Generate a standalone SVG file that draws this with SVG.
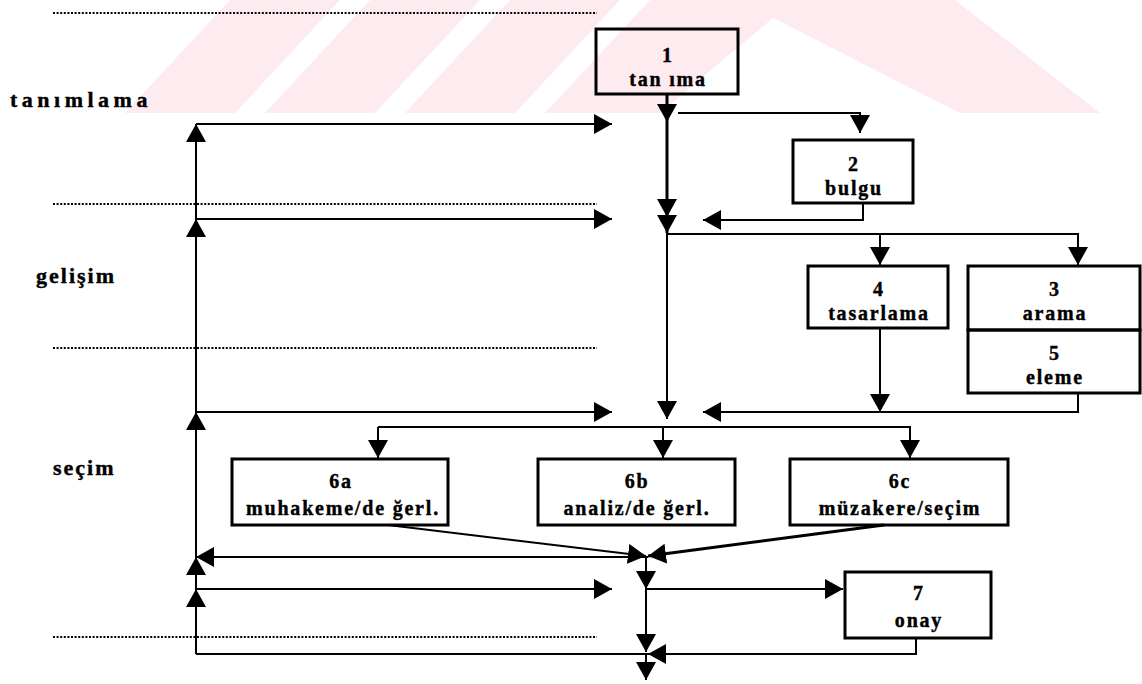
<svg xmlns="http://www.w3.org/2000/svg" width="1142" height="684" viewBox="0 0 1142 684">
  <style>
    .wm { fill: #fdebef; stroke: none; }
    .box { fill: none; stroke: #000; stroke-width: 3; }
    .ln { fill: none; stroke: #000; stroke-width: 2; }
    .thick { stroke-width: 3; }
    .sep { fill: none; stroke: #000; stroke-width: 2.2; stroke-dasharray: 2 1.6; }
    .t { font-family: "Liberation Serif", "Times New Roman", serif; font-weight: bold; font-size: 20px; letter-spacing: 1.8px; text-anchor: middle; fill: #000; stroke: #000; stroke-width: 0.4; }
    .phase { font-family: "Liberation Serif", "Times New Roman", serif; font-weight: bold; font-size: 22px; fill: #000; stroke: #000; stroke-width: 0.4; }
  </style>
  <defs>
    <marker id="ah" viewBox="0 0 18 20" refX="18" refY="10" markerWidth="18" markerHeight="20" markerUnits="userSpaceOnUse" orient="auto">
      <path d="M0,0 L18,10 L0,20 z" fill="#000"/>
    </marker>
  </defs>
  <rect width="1142" height="684" fill="#fff"/>

  <!-- faint background emblem -->
  <g id="emblem">
    <polygon class="wm" points="125,113 235,113 340,0 230,0"/>
    <polygon class="wm" points="265,113 375,113 480,0 370,0"/>
    <polygon class="wm" points="405,113 515,113 620,0 510,0"/>
    <polygon class="wm" points="545,113 660,113 773,18 960,113 1100,113 955,0 650,0"/>
  </g>

  <!-- phase separators -->
  <g id="separators">
    <line class="sep" x1="53" y1="13" x2="597" y2="13"/>
    <line class="sep" x1="53" y1="204" x2="597" y2="204"/>
    <line class="sep" x1="53" y1="348" x2="597" y2="348"/>
    <line class="sep" x1="53" y1="637" x2="597" y2="637"/>
  </g>

  <!-- phase labels -->
  <g id="phases">
    <text class="phase" x="10" y="107" letter-spacing="4.5">tanımlama</text>
    <text class="phase" x="36" y="283" letter-spacing="2">gelişim</text>
    <text class="phase" x="53" y="475" letter-spacing="2">seçim</text>
  </g>

  <!-- connectors -->
  <g id="connectors">
    <!-- feedback spine on the left -->
    <path class="ln" d="M196,219 V124" marker-end="url(#ah)"/>
    <path class="ln" d="M196,412 V219" marker-end="url(#ah)"/>
    <path class="ln" d="M196,557 V412" marker-end="url(#ah)"/>
    <path class="ln" d="M196,589 V557" marker-end="url(#ah)"/>
    <path class="ln" d="M196,654 V589" marker-end="url(#ah)"/>
    <path class="ln" d="M196,124 H612" marker-end="url(#ah)"/>
    <path class="ln" d="M196,219 H612" marker-end="url(#ah)"/>
    <path class="ln" d="M196,412 H612" marker-end="url(#ah)"/>
    <path class="ln" d="M196,589 H612" marker-end="url(#ah)"/>
    <path class="ln" d="M648,557 H196" marker-end="url(#ah)"/>
    <path class="ln" d="M648,654 H196"/>

    <!-- main flow, upper part -->
    <path class="ln thick" d="M667,94 V122" marker-end="url(#ah)"/>
    <path class="ln thick" d="M667,122 V217" marker-end="url(#ah)"/>
    <path class="ln thick" d="M667,217 V233" marker-end="url(#ah)"/>
    <path class="ln" d="M667,233 V419" marker-end="url(#ah)"/>
    <path class="ln" d="M678,113 H860 V133" marker-end="url(#ah)"/>
    <path class="ln" d="M863,203 V220 H703" marker-end="url(#ah)"/>
    <path class="ln" d="M667,234 H1078 V265" marker-end="url(#ah)"/>
    <path class="ln" d="M880,234 V265" marker-end="url(#ah)"/>
    <path class="ln" d="M880,328 V412" marker-end="url(#ah)"/>
    <path class="ln" d="M1078,393 V412 H703" marker-end="url(#ah)"/>

    <!-- selection branches -->
    <path class="ln" d="M378,427 H910 V458" marker-end="url(#ah)"/>
    <path class="ln" d="M378,427 V458" marker-end="url(#ah)"/>
    <path class="ln" d="M663,427 V458" marker-end="url(#ah)"/>
    <path class="ln" d="M388,525 L646,556" marker-end="url(#ah)"/>
    <path class="ln thick" d="M884,525 L648,556" marker-end="url(#ah)"/>

    <!-- main flow, lower part -->
    <path class="ln" d="M646,556 V589" marker-end="url(#ah)"/>
    <path class="ln" d="M646,589 H843" marker-end="url(#ah)"/>
    <path class="ln" d="M646,589 V652" marker-end="url(#ah)"/>
    <path class="ln" d="M916,638 V654 H648" marker-end="url(#ah)"/>
    <path class="ln" d="M646,654 V680" marker-end="url(#ah)"/>
  </g>

  <!-- process steps -->
  <g id="n1">
    <rect class="box" x="596" y="29" width="142" height="65"/>
    <text class="t" x="668" y="62">1</text>
    <text class="t" x="668" y="86">tan ıma</text>
  </g>
  <g id="n2">
    <rect class="box" x="793" y="140" width="120" height="63"/>
    <text class="t" x="854" y="171">2</text>
    <text class="t" x="854" y="195">bulgu</text>
  </g>
  <g id="n4">
    <rect class="box" x="808" y="266" width="140" height="62"/>
    <text class="t" x="879" y="296">4</text>
    <text class="t" x="879" y="320">tasarlama</text>
  </g>
  <g id="n3">
    <rect class="box" x="968" y="266" width="172" height="64"/>
    <text class="t" x="1055" y="296">3</text>
    <text class="t" x="1055" y="320">arama</text>
  </g>
  <g id="n5">
    <rect class="box" x="968" y="330" width="172" height="63"/>
    <text class="t" x="1055" y="360">5</text>
    <text class="t" x="1055" y="384">eleme</text>
  </g>
  <g id="n6a">
    <rect class="box" x="232" y="459" width="216" height="66"/>
    <text class="t" x="341" y="488">6a</text>
    <text class="t" x="343" y="515">muhakeme/de ğerl.</text>
  </g>
  <g id="n6b">
    <rect class="box" x="538" y="459" width="197" height="66"/>
    <text class="t" x="637" y="488">6b</text>
    <text class="t" x="637" y="515">analiz/de ğerl.</text>
  </g>
  <g id="n6c">
    <rect class="box" x="790" y="459" width="218" height="66"/>
    <text class="t" x="900" y="488">6c</text>
    <text class="t" x="900" y="515">müzakere/seçim</text>
  </g>
  <g id="n7">
    <rect class="box" x="845" y="572" width="146" height="66"/>
    <text class="t" x="919" y="600">7</text>
    <text class="t" x="919" y="627">onay</text>
  </g>
</svg>
